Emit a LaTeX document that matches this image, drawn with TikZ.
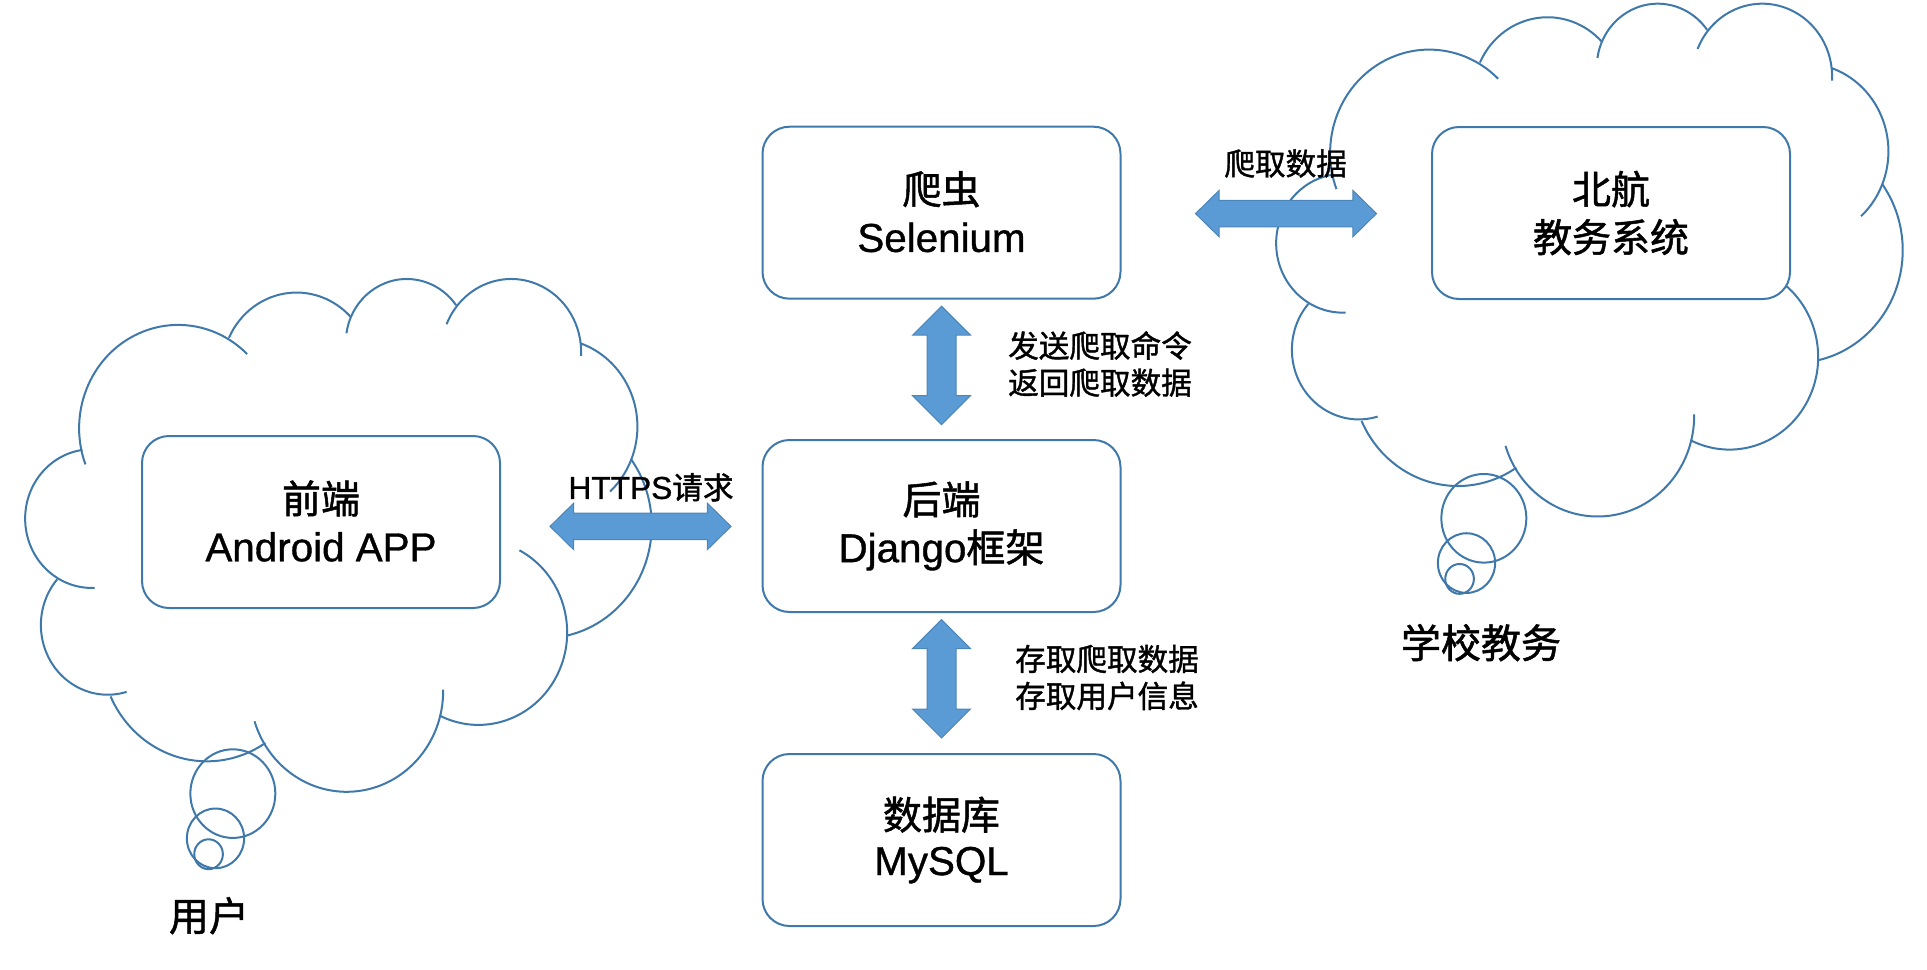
\documentclass[tikz,border=0pt]{standalone}
\usepackage{fontspec}
\setmainfont[Scale=1.035,FakeBold=0.9]{Liberation Sans}
\newfontfamily\cjk[FakeBold=1.3]{Noto Sans CJK SC}
\usetikzlibrary{shapes.arrows}
\definecolor{lineblue}{HTML}{3F79AB}
\definecolor{arrowblue}{HTML}{5B9BD5}
\definecolor{arrowedge}{HTML}{4C85B8}
\tikzset{
  x=0.5pt,y=-0.5pt,
  lobe/.style={draw=lineblue,line width=1pt},
  bubble/.style={draw=lineblue,line width=1pt},
  sysbox/.style={draw=lineblue,line width=1pt,fill=white,rounded corners=13.5pt,minimum width=179pt,minimum height=86pt,align=center,inner sep=0pt,font=\fontsize{19.5pt}{24pt}\selectfont},
  biglabel/.style={inner sep=0pt,font=\fontsize{20pt}{24pt}\selectfont},
  smalllabel/.style={inner sep=0pt,align=center,font=\fontsize{15.3pt}{18.5pt}\selectfont},
  vblock/.style={double arrow,draw=arrowedge,line width=0.5pt,fill=arrowblue,rotate=90,inner sep=0pt,inner ysep=7pt,inner xsep=0pt,double arrow head extend=7.25pt,double arrow tip angle=90,minimum height=59.2pt},
  hblock/.style={double arrow,draw=arrowedge,line width=0.5pt,fill=arrowblue,inner sep=0pt,inner ysep=6.4pt,inner xsep=0pt,double arrow head extend=5pt,double arrow tip angle=89,minimum height=90.5pt},
}
% arc through three points (start, middle, end)
\newcommand{\threearc}[6]{%
  \pgfmathsetmacro\ax{#1/100}\pgfmathsetmacro\ay{#2/100}%
  \pgfmathsetmacro\bx{#3/100}\pgfmathsetmacro\by{#4/100}%
  \pgfmathsetmacro\ex{#5/100}\pgfmathsetmacro\ey{#6/100}%
  \pgfmathsetmacro\dd{2*(\ax*(\by-\ey)+\bx*(\ey-\ay)+\ex*(\ay-\by))}%
  \pgfmathsetmacro\sa{\ax*\ax+\ay*\ay}\pgfmathsetmacro\sb{\bx*\bx+\by*\by}\pgfmathsetmacro\se{\ex*\ex+\ey*\ey}%
  \pgfmathsetmacro\ux{(\sa*(\by-\ey)+\sb*(\ey-\ay)+\se*(\ay-\by))/\dd}%
  \pgfmathsetmacro\uy{(\sa*(\ex-\bx)+\sb*(\ax-\ex)+\se*(\bx-\ax))/\dd}%
  \pgfmathsetmacro\rr{100*sqrt((\ax-\ux)*(\ax-\ux)+(\ay-\uy)*(\ay-\uy))}%
  \pgfmathsetmacro\ta{atan2(\ay-\uy,\ax-\ux)}%
  \pgfmathsetmacro\tb{atan2(\by-\uy,\bx-\ux)}%
  \pgfmathsetmacro\te{atan2(\ey-\uy,\ex-\ux)}%
  \pgfmathsetmacro\dab{mod(\tb-\ta+720,360)}%
  \pgfmathsetmacro\dae{mod(\te-\ta+720,360)}%
  \pgfmathsetmacro\tz{\dab<\dae ? \ta+\dae : \ta-(360-\dae)}%
  \draw[lobe] (#1,#2) arc[start angle=\ta,end angle=\tz,radius=\rr];%
}
\newcommand{\cloudshape}{%
  \threearc{197}{452}{255}{205}{570}{208}
  \threearc{528}{172}{680}{72}{808}{125}
  \threearc{799}{162}{938}{42}{1052}{100}
  \threearc{1030}{142}{1180}{42}{1340}{212}
  \threearc{1338}{184}{1470}{370}{1407}{512}
  \threearc{1455}{440}{1502}{610}{1310}{830}
  \threearc{1198}{642}{1308}{820}{1013}{1007}
  \threearc{1022}{950}{800}{1176}{587}{1020}
  \threearc{612}{1068}{460}{1108}{255}{965}
  \threearc{292}{955}{110}{875}{132}{706}
  \threearc{218}{725}{58}{570}{190}{420}
  \draw[bubble] (537,1180) circle[radius=98];
  \draw[bubble] (497,1279) circle[radius=66];
  \draw[bubble] (481,1314) circle[radius=33];
}
\begin{document}
\begin{tikzpicture}
\useasboundingbox (0,0) rectangle (1927,969);
\begin{scope}[shift={(0,260)},x=0.2168pt,y=-0.2261pt]\cloudshape\end{scope}
\begin{scope}[shift={(1251,-15.3)},x=0.2168pt,y=-0.2261pt]\cloudshape\end{scope}

\node[sysbox] (crawler) at (941.5,212.7) {\raisebox{1.2pt}{\cjk 爬虫}\\\raisebox{1.2pt}{Selenium}};
\node[sysbox] (backend) at (941.5,526) {\raisebox{-0.6pt}{\cjk 后端}\\\raisebox{-0.6pt}{Django{\cjk 框架}}};
\node[sysbox] (database) at (941.5,840) {\raisebox{-1.2pt}{\cjk 数据库}\\MySQL};
\node[sysbox] (frontend) at (321,522) {\raisebox{1.2pt}{\cjk 前端}\\\raisebox{1.2pt}{Android APP}};
\node[sysbox] (school) at (1611,213) {\raisebox{1.2pt}{\cjk 北航}\\\raisebox{1.2pt}{\cjk 教务系统}};

\node[vblock] (a1) at (941.5,365.4) {};
\node[vblock] (a2) at (941.5,678.8) {};
\node[hblock] (a3) at (640.5,526.4) {};
\node[hblock] (a4) at (1286,213.6) {};

\node[smalllabel] (l1) at (1100,364) {{\cjk 发送爬取命令}\\{\cjk 返回爬取数据}};
\node[smalllabel] (l2) at (1107,677.5) {{\cjk 存取爬取数据}\\{\cjk 存取用户信息}};
\node[smalllabel] (l3) at (651,487.3) {HTTPS{\cjk 请求}};
\node[smalllabel] (l4) at (1285.6,163.5) {{\cjk 爬取数据}};
\node[biglabel] (u1) at (209,915.7) {{\cjk 用户}};
\node[biglabel] (u2) at (1481,642.7) {{\cjk 学校教务}};
\end{tikzpicture}
\end{document}
